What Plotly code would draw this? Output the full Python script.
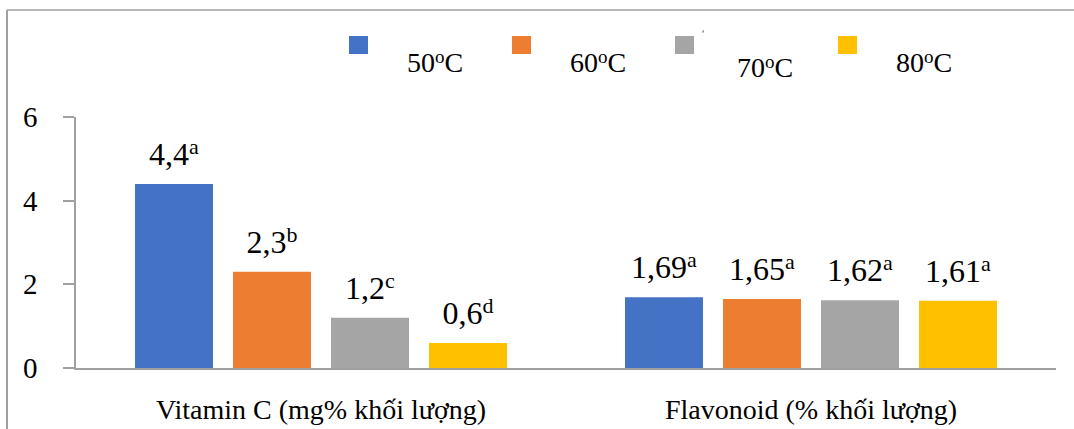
import plotly.graph_objects as go

# ---- data ----
categories = ["Vitamin C (mg% khối lượng)", "Flavonoid (% khối lượng)"]
temps = ["50", "60", "70", "80"]
values_50 = [4.4, 1.69]
values_60 = [2.3, 1.65]
values_70 = [1.2, 1.62]
values_80 = [0.6, 1.61]
letters_50 = ["a", "a"]
letters_60 = ["b", "a"]
letters_70 = ["c", "a"]
letters_80 = ["d", "a"]
y_ticks = [0, 2, 4, 6]

series_values = [values_50, values_60, values_70, values_80]
series_letters = [letters_50, letters_60, letters_70, letters_80]
colors = ["#4472C4", "#ED7D31", "#A5A5A5", "#FFC000"]

FONT = "Liberation Serif"
W, H = 1074, 429
PL, PR, PT, PB = 76, 1056, 117, 368


def px(x):
    return (x - PL) / (PR - PL)


def py(y):
    return (PB - y) / (PB - PT)


def sup(s, size, shift):
    return f"<span style='font-size:{size}px;baseline-shift:{shift}px'>{s}</span>"


fig = go.Figure()
for i, t in enumerate(temps):
    fig.add_trace(go.Bar(
        x=categories, y=series_values[i], name=f"{t}oC",
        marker=dict(color=colors[i], line=dict(width=0)),
        offsetgroup=str(i), showlegend=False,
    ))
for i, t in enumerate(temps):
    labels = [f"{str(v).replace('.', ',')}{sup(l, 22, 11)}"
              for v, l in zip(series_values[i], series_letters[i])]
    fig.add_trace(go.Scatter(
        x=categories, y=series_values[i], mode="markers+text",
        text=labels, textposition="top center",
        textfont=dict(family=FONT, size=32, color="black"),
        marker=dict(size=16, opacity=0, color=colors[i]),
        offsetgroup=str(i), showlegend=False, hoverinfo="skip",
        cliponaxis=False,
    ))

shapes = []
annotations = []
# outer frame (top and left edges)
shapes.append(dict(type="line", xref="paper", yref="paper",
                   x0=px(7), x1=px(1074), y0=py(10), y1=py(10),
                   line=dict(color="#a0a0a0", width=1.5)))
shapes.append(dict(type="line", xref="paper", yref="paper",
                   x0=px(7), x1=px(7), y0=py(10), y1=py(429),
                   line=dict(color="#a0a0a0", width=2)))

# legend drawn manually
for i, t in enumerate(temps):
    x0 = 349 + 163 * i
    shapes.append(dict(type="rect", xref="paper", yref="paper",
                       x0=px(x0), x1=px(x0 + 19), y0=py(54), y1=py(36),
                       fillcolor=colors[i], line=dict(width=0)))
    dx = 62 if i == 2 else 58
    ty = 67 if i == 2 else 62
    annotations.append(dict(
        xref="paper", yref="paper", x=px(x0 + dx - 2), y=py(ty),
        xanchor="left", yanchor="middle", showarrow=False,
        text=f"{t}{sup('o', 19, 9)}C",
        font=dict(family=FONT, size=28, color="black")))
annotations.append(dict(xref="paper", yref="paper", x=px(703), y=py(33),
                        xanchor="center", yanchor="middle", showarrow=False,
                        text="ʹ", font=dict(family=FONT, size=10, color="black")))

fig.update_layout(
    width=W, height=H, autosize=False,
    margin=dict(l=PL, r=W - PR, t=PT, b=H - PB, pad=0, autoexpand=False),
    paper_bgcolor="white", plot_bgcolor="white",
    barmode="group", bargap=0.2, bargroupgap=0.204,
    scattermode="group", scattergap=0.2,
    showlegend=False,
    shapes=shapes, annotations=annotations,
    font=dict(family=FONT, color="black"),
)
fig.update_xaxes(
    showline=True, linecolor="#a0a0a0", linewidth=1.5,
    ticks="", showgrid=False, zeroline=False, automargin=False,
    tickfont=dict(family=FONT, size=28, color="black"),
    ticklabelstandoff=16,
)
fig.update_yaxes(
    range=[0, 6], tickvals=y_ticks, automargin=False,
    showline=True, linecolor="#a0a0a0", linewidth=1.5,
    ticks="outside", ticklen=11, tickcolor="#a0a0a0", tickwidth=1.5,
    showgrid=False, zeroline=False,
    tickfont=dict(family=FONT, size=29, color="black"),
    ticklabelstandoff=20,
)

fig.write_html("out.html", config={"displayModeBar": False},
               post_script="document.body.style.margin='0';document.body.style.padding='0';")
